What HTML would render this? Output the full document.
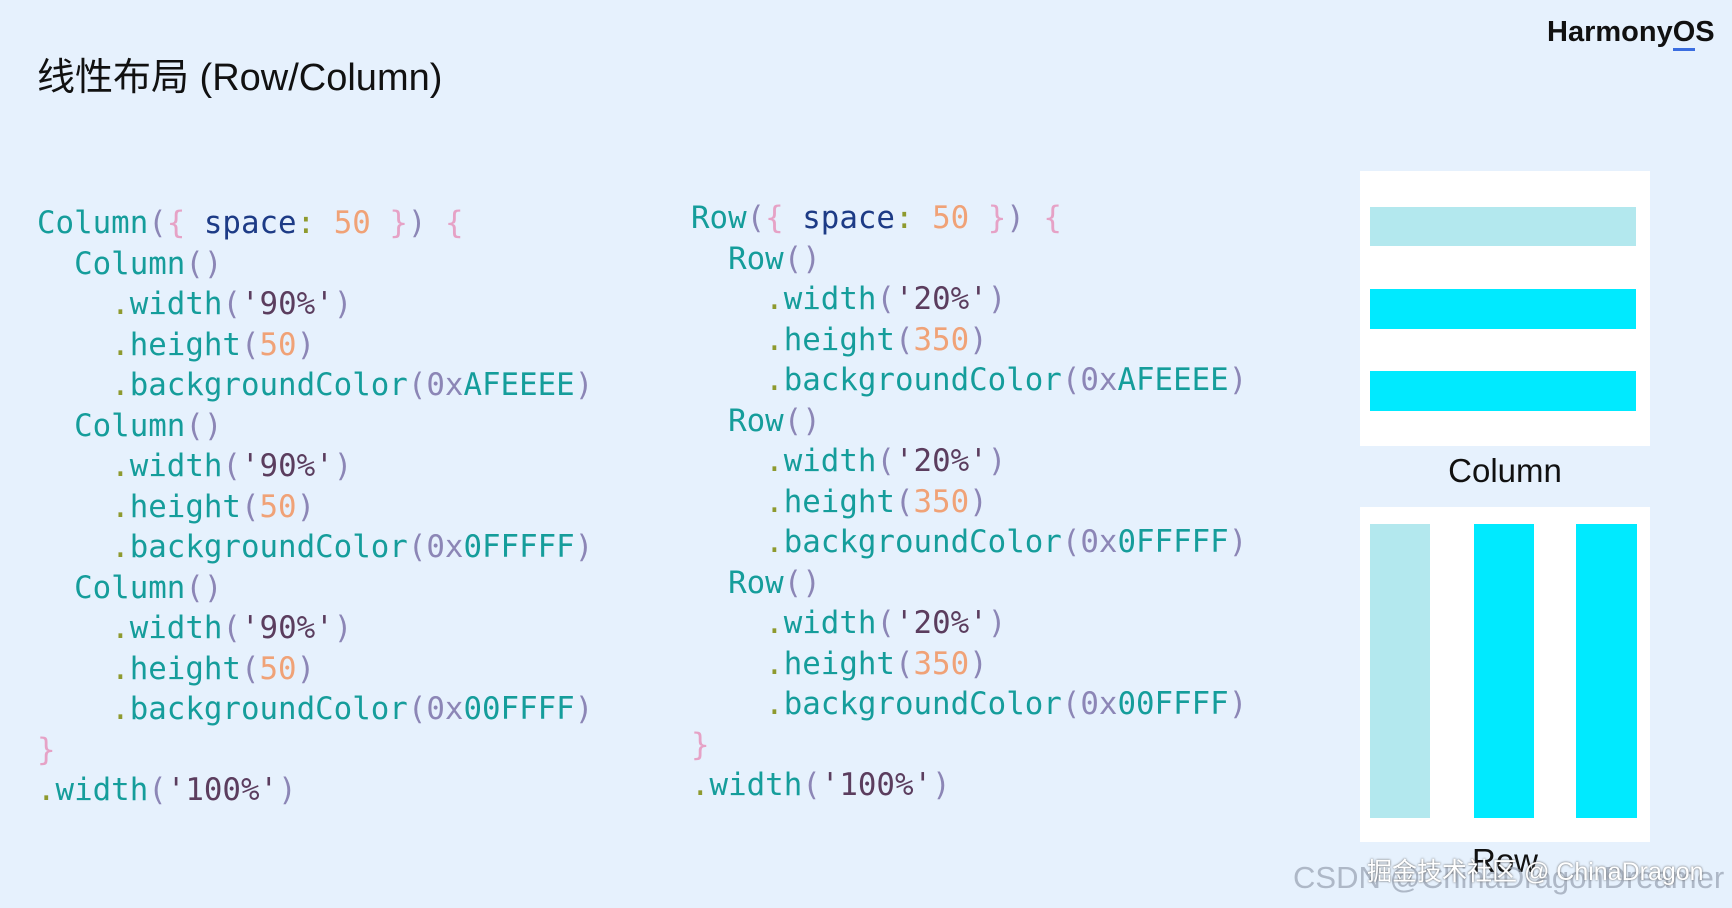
<!DOCTYPE html>
<html><head><meta charset="utf-8"><style>
body{margin:0;width:1732px;height:908px;background:#e6f1fd;position:relative;overflow:hidden;font-family:"Liberation Sans","Noto Sans CJK SC",sans-serif}
.t{position:absolute;left:37px;top:46px;font-size:38px;color:#111;white-space:nowrap}
.logo{position:absolute;left:1547px;top:16px;font-size:29px;font-weight:bold;color:#111}
.logo u{text-decoration:none;border-bottom:3px solid #3a6de0}
.code{position:absolute;font-family:"DejaVu Sans Mono","Liberation Mono",monospace;font-size:30.8px;line-height:40.5px;white-space:pre;color:#159d9b}
.p{color:#8c86b6}.b{color:#e6a2c6}.k{color:#1d3b86}.n{color:#f0a277}.s{color:#5b3d5e}.d{color:#8e9a2e}
.box{position:absolute;background:#fff;left:1360px;width:290px}
.bar{position:absolute}
.lt{background:#b3e8ee}.cy{background:#00eaff}
.lbl{position:absolute;font-size:33px;color:#111;width:290px;left:1360px;text-align:center}
.wm{position:absolute;font-size:27px;white-space:nowrap}
</style></head><body>
<div class="t">线性布局 (Row/Column)</div>
<div class="logo">Harmony<u>O</u>S</div>
<div class="code" style="left:37px;top:203px">Column<span class="p">(</span><span class="b">{</span> <span class="k">space</span><span class="d">:</span> <span class="n">50</span> <span class="b">}</span><span class="p">)</span> <span class="b">{</span>
  Column<span class="p">()</span>
    <span class="d">.</span>width<span class="p">(</span><span class="s">'90%'</span><span class="p">)</span>
    <span class="d">.</span>height<span class="p">(</span><span class="n">50</span><span class="p">)</span>
    <span class="d">.</span>backgroundColor<span class="p">(0x</span>AFEEEE<span class="p">)</span>
  Column<span class="p">()</span>
    <span class="d">.</span>width<span class="p">(</span><span class="s">'90%'</span><span class="p">)</span>
    <span class="d">.</span>height<span class="p">(</span><span class="n">50</span><span class="p">)</span>
    <span class="d">.</span>backgroundColor<span class="p">(0x</span>0FFFFF<span class="p">)</span>
  Column<span class="p">()</span>
    <span class="d">.</span>width<span class="p">(</span><span class="s">'90%'</span><span class="p">)</span>
    <span class="d">.</span>height<span class="p">(</span><span class="n">50</span><span class="p">)</span>
    <span class="d">.</span>backgroundColor<span class="p">(0x</span>00FFFF<span class="p">)</span>
<span class="b">}</span>
<span class="d">.</span>width<span class="p">(</span><span class="s">'100%'</span><span class="p">)</span></div>
<div class="code" style="left:691px;top:198px">Row<span class="p">(</span><span class="b">{</span> <span class="k">space</span><span class="d">:</span> <span class="n">50</span> <span class="b">}</span><span class="p">)</span> <span class="b">{</span>
  Row<span class="p">()</span>
    <span class="d">.</span>width<span class="p">(</span><span class="s">'20%'</span><span class="p">)</span>
    <span class="d">.</span>height<span class="p">(</span><span class="n">350</span><span class="p">)</span>
    <span class="d">.</span>backgroundColor<span class="p">(0x</span>AFEEEE<span class="p">)</span>
  Row<span class="p">()</span>
    <span class="d">.</span>width<span class="p">(</span><span class="s">'20%'</span><span class="p">)</span>
    <span class="d">.</span>height<span class="p">(</span><span class="n">350</span><span class="p">)</span>
    <span class="d">.</span>backgroundColor<span class="p">(0x</span>0FFFFF<span class="p">)</span>
  Row<span class="p">()</span>
    <span class="d">.</span>width<span class="p">(</span><span class="s">'20%'</span><span class="p">)</span>
    <span class="d">.</span>height<span class="p">(</span><span class="n">350</span><span class="p">)</span>
    <span class="d">.</span>backgroundColor<span class="p">(0x</span>00FFFF<span class="p">)</span>
<span class="b">}</span>
<span class="d">.</span>width<span class="p">(</span><span class="s">'100%'</span><span class="p">)</span></div>
<div class="box" style="top:171px;height:275px"></div>
<div class="bar lt" style="left:1370px;width:266px;top:207px;height:39px"></div>
<div class="bar cy" style="left:1370px;width:266px;top:289px;height:40px"></div>
<div class="bar cy" style="left:1370px;width:266px;top:371px;height:40px"></div>
<div class="lbl" style="top:452px">Column</div>
<div class="box" style="top:507px;height:335px"></div>
<div class="bar lt" style="left:1370px;width:60px;top:524px;height:294px"></div>
<div class="bar cy" style="left:1474px;width:60px;top:524px;height:294px"></div>
<div class="bar cy" style="left:1576px;width:61px;top:524px;height:294px"></div>
<div class="lbl" style="top:842px">Row</div>
<div class="wm" style="left:1293px;top:860px;color:rgba(150,160,175,.7);font-size:31px">CSDN @ChinaDragonDreamer</div>
<div class="wm" style="left:1367px;top:852px;color:#fff;text-shadow:0 0 2px #555;font-size:25px">掘金技术社区 @ ChinaDragon</div>
</body></html>
